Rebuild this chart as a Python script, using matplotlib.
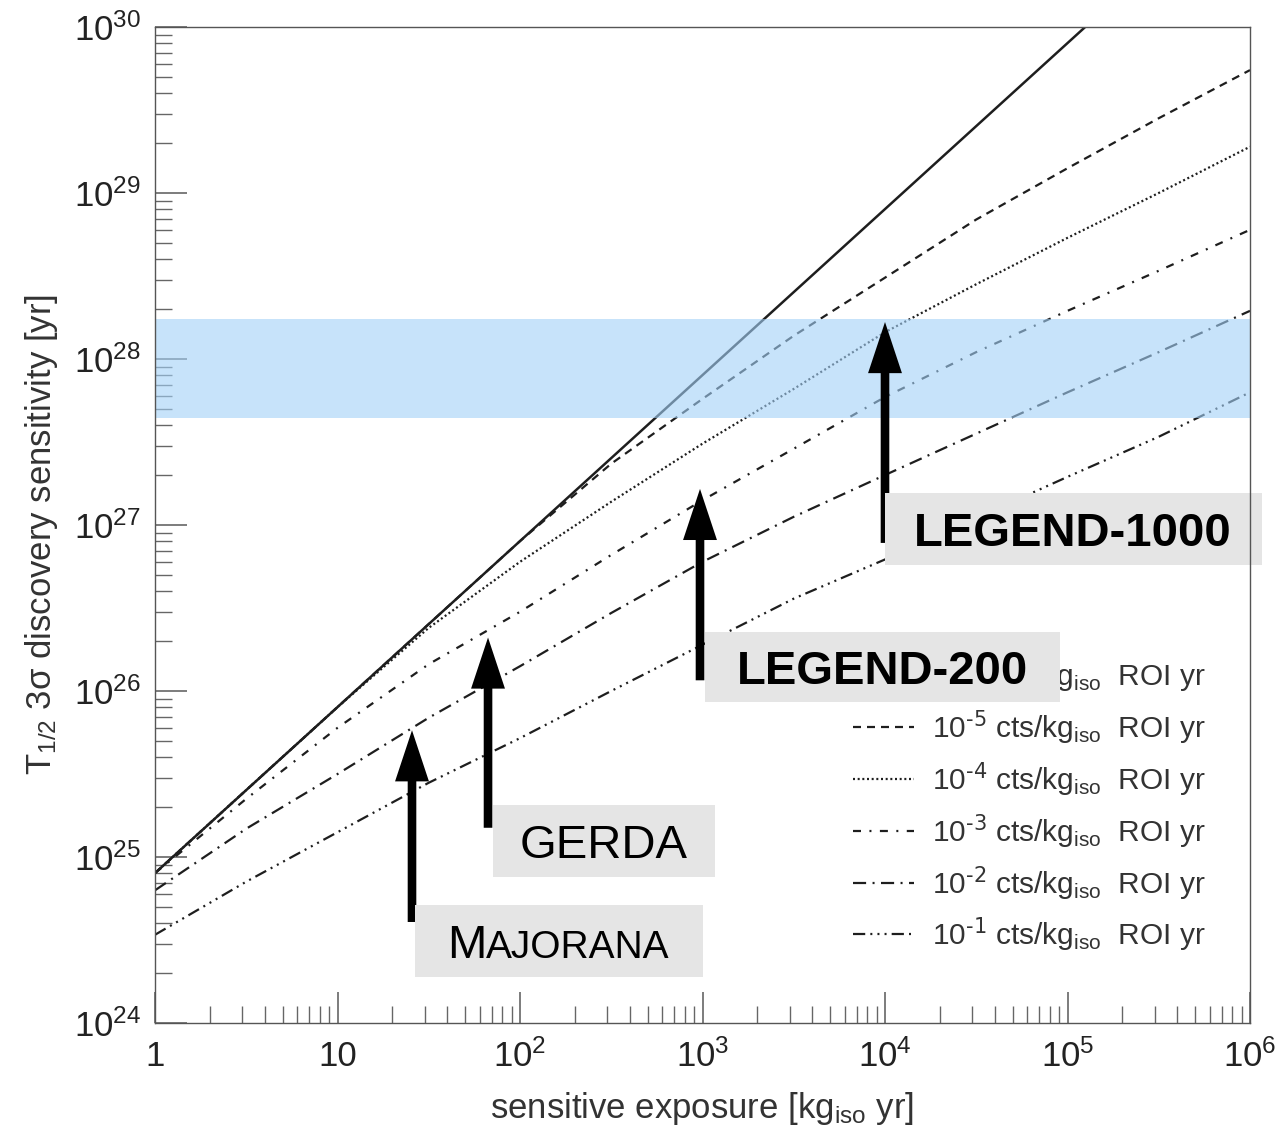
import matplotlib
matplotlib.use('Agg')
from matplotlib import pyplot as plt
from matplotlib.patches import Rectangle
from matplotlib.ticker import FixedLocator, FixedFormatter, LogLocator, NullFormatter

plt.rcParams['font.family'] = ['Liberation Sans', 'DejaVu Sans']

# exposure grid [kg_iso yr], half-decade steps
exposure = [1, 3.16, 10, 31.6, 100, 316, 1e3, 3.16e3, 1e4, 3.16e4, 1e5, 3.16e5, 1e6]

# background free (slope 1) line, ends at top of frame
exposure_free = [1, 10, 100, 1e3, 1e4, 1e5, 1.25e5]
t_free = [8.0e24, 8.0e25, 8.0e26, 8.0e27, 8.0e28, 8.0e29, 1.0e30]

# 3 sigma discovery sensitivity [yr] for each background index
t_bi5 = [8.0e24, 2.53e25, 8.0e25, 2.53e26, 8.0e26, 2.34e27, 5.75e27, 1.38e28,
         3.09e28, 6.92e28, 1.41e29, 2.82e29, 5.5e29]
t_bi4 = [8.0e24, 2.53e25, 8.0e25, 2.4e26, 6.0e26, 1.38e27, 3.09e27, 6.6e27,
         1.45e28, 2.82e28, 5.37e28, 1.0e29, 1.9e29]
t_bi3 = [8.0e24, 2.24e25, 6.0e25, 1.45e26, 3.0e26, 6.6e26, 1.41e27, 2.88e27,
         5.9e27, 1.1e28, 1.95e28, 3.4e28, 6.0e28]
t_bi2 = [6.3e24, 1.48e25, 3.16e25, 6.9e25, 1.41e26, 2.95e26, 6.0e26, 1.12e27,
         2.0e27, 3.55e27, 6.3e27, 1.1e28, 1.95e28]
t_bi1 = [3.4e24, 7.1e24, 1.41e25, 2.8e25, 5.2e25, 1.0e26, 1.9e26, 3.6e26,
         6.2e26, 1.1e27, 1.95e27, 3.4e27, 6.3e27]

bi_exponents = [-6, -5, -4, -3, -2, -1]
legend_labels = [r'$\mathregular{10^{\text{%d}}}$ cts/kg$\mathregular{_{iso}}$  ROI yr' % n
                 for n in bi_exponents]

# shaded band of half-life [yr]
band_low, band_high = 4.4e27, 1.74e28

# experiments: (exposure, arrow tail, arrow tip)
experiments = {
    'MAJORANA': (25.6, 4.06e24, 5.8e25),
    'GERDA': (66.8, 1.5e25, 2.1e26),
    'LEGEND-200': (969, 1.16e26, 1.65e27),
    'LEGEND-1000': (1.0e4, 7.8e26, 1.67e28),
}

xticks = [1, 10, 1e2, 1e3, 1e4, 1e5, 1e6]
xticklabels = ['1', '10'] + [r'$\mathregular{10^{%d}}$' % n for n in range(2, 7)]
yticks = [1e24, 1e25, 1e26, 1e27, 1e28, 1e29, 1e30]
yticklabels = [r'$\mathregular{10^{%d}}$' % n for n in range(24, 31)]

W, H = 1277, 1138
AX_L, AX_R, AX_T, AX_B = 155, 1250, 27, 1023


def frac(px, py):
    """reference pixel -> axes fraction"""
    return (px - AX_L) / (AX_R - AX_L), (AX_B - py) / (AX_B - AX_T)


fig = plt.figure(figsize=(W / 100, H / 100), dpi=100)
ax = fig.add_axes([AX_L / W, 1 - AX_B / H, (AX_R - AX_L) / W, (AX_B - AX_T) / H])
ax.set_xscale('log')
ax.set_yscale('log')
ax.set_xlim(1, 1e6)
ax.set_ylim(1e24, 1e30)

lc = '#1e1e1e'
lw = 1.6
l5, = ax.plot(exposure, t_bi5, color=lc, lw=lw, dashes=(3.6, 2.7), zorder=2)
l4, = ax.plot(exposure, t_bi4, color=lc, lw=lw, dashes=(0.9, 1.2), zorder=2)
l3, = ax.plot(exposure, t_bi3, color=lc, lw=lw, dashes=(3.6, 3.8, 0.9, 3.8), zorder=2)
l2, = ax.plot(exposure, t_bi2, color=lc, lw=lw, dashes=(5.9, 2.9, 0.9, 2.9), zorder=2)
l1, = ax.plot(exposure, t_bi1, color=lc, lw=lw,
              dashes=(5.5, 2.3, 0.9, 2.3, 0.9, 2.3, 0.9, 2.3), zorder=2)
l0, = ax.plot(exposure_free, t_free, color=lc, lw=1.8, zorder=2.5)

ax.axhspan(band_low, band_high, color='#a3d1f8', alpha=0.6, lw=0, zorder=3)

# arrows
for name, (e, tail, tip) in experiments.items():
    ax.annotate('', xy=(e, tip), xytext=(e, tail), zorder=4,
                arrowprops=dict(arrowstyle='simple,head_length=1.84,head_width=1.22,tail_width=0.31',
                                mutation_scale=20, fc='black', ec='none',
                                shrinkA=0, shrinkB=0))

# grey label boxes (reference pixel extents)
boxes = [(415, 905, 703, 977), (493, 805, 715, 877), (705, 632, 1060, 702), (885, 493, 1262, 565)]
for x0, y0, x1, y1 in boxes:
    fx0, fy0 = frac(x0, y1)
    fx1, fy1 = frac(x1, y0)
    ax.add_patch(Rectangle((fx0, fy0), fx1 - fx0, fy1 - fy0, transform=ax.transAxes,
                           fc='#e5e5e5', ec='none', zorder=5, clip_on=False))

fx, fy = frac(447, 958)
ax.text(fx, fy, 'M', transform=ax.transAxes, fontsize=34, ha='left', va='baseline', zorder=6)
fx, fy = frac(486, 958)
ax.text(fx, fy, 'AJORANA', transform=ax.transAxes, fontsize=28, ha='left', va='baseline', zorder=6)
fx, fy = frac(604, 858)
ax.text(fx, fy, 'GERDA', transform=ax.transAxes, fontsize=34, ha='center', va='baseline', zorder=6)
fx, fy = frac(882, 684)
ax.text(fx, fy, 'LEGEND-200', transform=ax.transAxes, fontsize=34, fontweight='bold',
        ha='center', va='baseline', zorder=6)
fx, fy = frac(1073, 546)
ax.text(fx, fy, 'LEGEND-1000', transform=ax.transAxes, fontsize=34, fontweight='bold',
        ha='center', va='baseline', zorder=6, clip_on=False)

# legend
leg = ax.legend([l0, l5, l4, l3, l2, l1], legend_labels, loc='center left',
                bbox_to_anchor=frac(853, 805), frameon=False, fontsize=21.5,
                handlelength=2.05, handletextpad=0.6, labelspacing=0.47,
                borderpad=0, borderaxespad=0, labelcolor='#333333')
leg.set_zorder(4.5)

# axes cosmetics
for sp in ax.spines.values():
    sp.set_color('#555555')
    sp.set_linewidth(1.0)
    sp.set_zorder(7)

ax.xaxis.set_major_locator(FixedLocator(xticks))
ax.xaxis.set_major_formatter(FixedFormatter(xticklabels))
ax.yaxis.set_major_locator(FixedLocator(yticks))
ax.yaxis.set_major_formatter(FixedFormatter(yticklabels))
for axis in (ax.xaxis, ax.yaxis):
    axis.set_minor_locator(LogLocator(base=10, subs=range(2, 10), numticks=20))
    axis.set_minor_formatter(NullFormatter())

ax.tick_params(which='both', direction='in', top=False, right=False, colors='#666666',
               labelcolor='#222222', labelsize=25)
ax.tick_params(axis='x', which='major', length=22, width=1.2, pad=12)
ax.tick_params(axis='x', which='minor', length=12, width=1.0)
ax.tick_params(axis='y', which='major', length=23, width=1.2, pad=10)
ax.tick_params(axis='y', which='minor', length=12, width=1.0)

ax.set_xlabel(r'sensitive exposure [kg$\mathregular{_{iso}}$ yr]', fontsize=25, color='#333333')
ax.set_ylabel(r'$\mathregular{T_{1/2}}$ 3σ discovery sensitivity [yr]', fontsize=25, color='#333333')
ax.xaxis.set_label_coords(0.5, frac(0, 1090)[1])
ax.yaxis.set_label_coords(frac(60, 0)[0], frac(0, 535)[1])

fig.savefig('out.png', dpi=100)
